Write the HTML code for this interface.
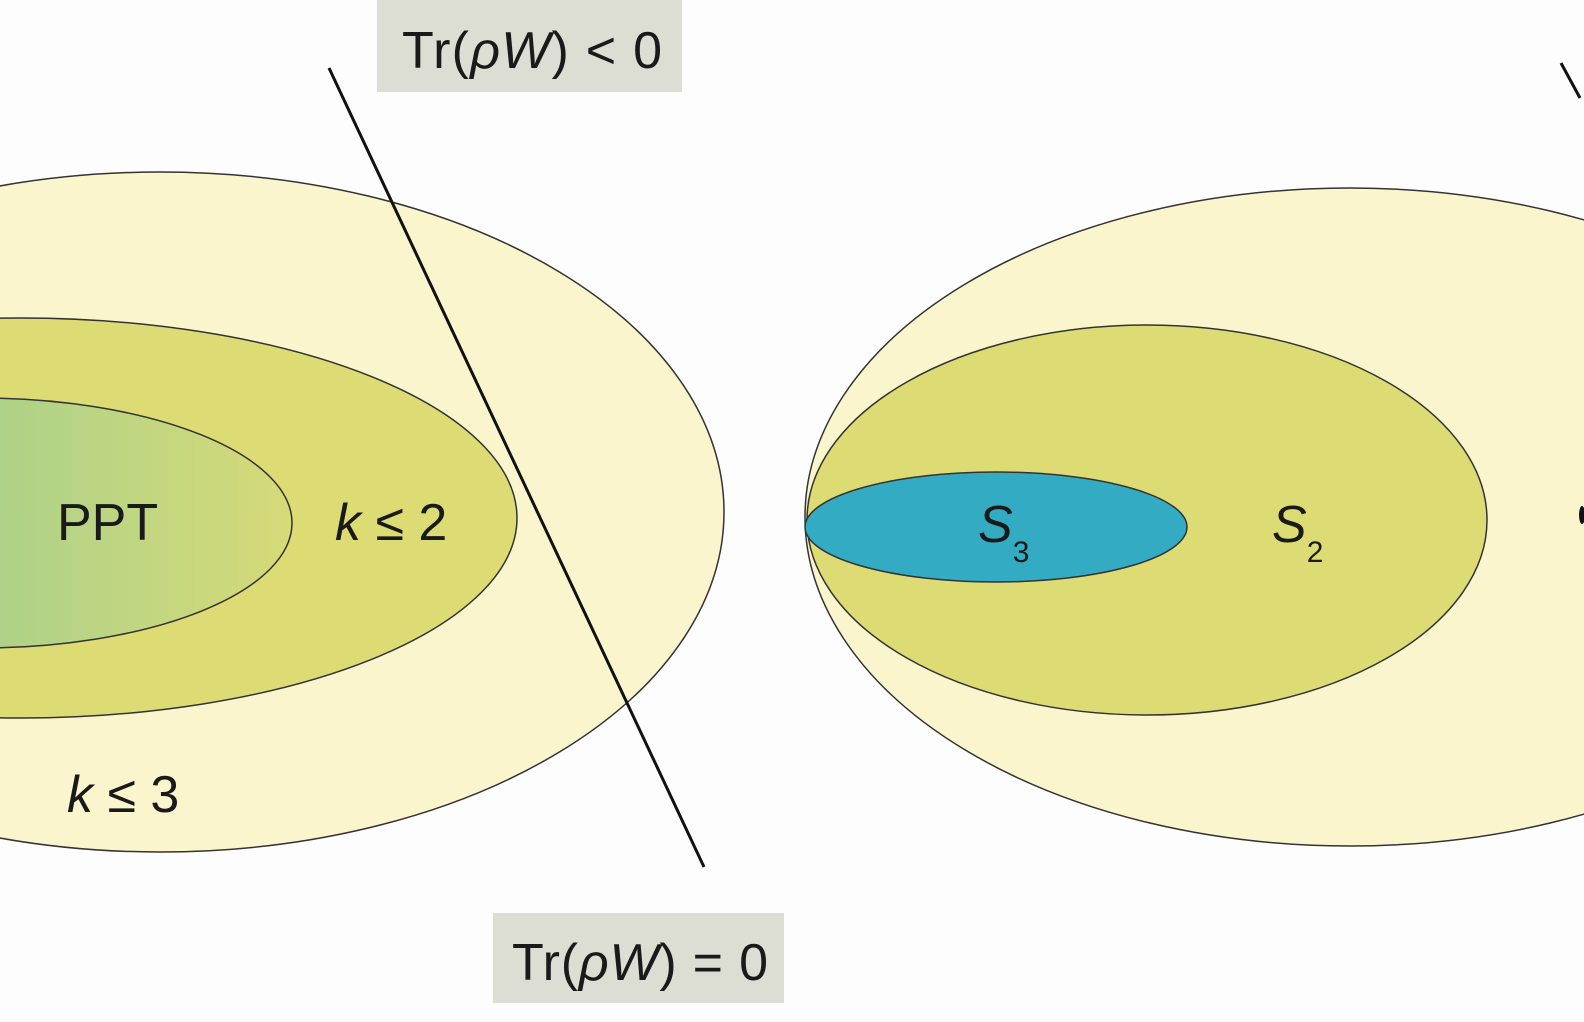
<!DOCTYPE html>
<html><head><style>
html,body{margin:0;padding:0;background:#fdfdfd;}
svg{display:block}
text{font-family:"Liberation Sans",sans-serif;fill:#1a1a1a}
</style></head><body>
<svg width="1584" height="1022" viewBox="0 0 1584 1022">
<defs>
<linearGradient id="g" x1="0" x2="1" y1="0" y2="0">
<stop offset="0" stop-color="#80c598"/>
<stop offset="0.65" stop-color="#b8d484"/>
<stop offset="1" stop-color="#d6da78"/>
</linearGradient>
</defs>
<rect width="1584" height="1022" fill="#fdfdfd"/>
<ellipse cx="160" cy="512" rx="564" ry="340" fill="#faf5cd" stroke="#333" stroke-width="1.5"/>
<ellipse cx="20" cy="518" rx="497" ry="200" fill="#dcdb74" stroke="#333" stroke-width="1.5"/>
<ellipse cx="-20" cy="523" rx="312" ry="125" fill="url(#g)" stroke="#333" stroke-width="1.5"/>
<ellipse cx="1350" cy="517" rx="545" ry="329" fill="#faf5cd" stroke="#333" stroke-width="1.5"/>
<ellipse cx="1147" cy="520" rx="340" ry="195" fill="#dcdb74" stroke="#333" stroke-width="1.5"/>
<ellipse cx="996" cy="527" rx="191" ry="55" fill="#33abc2" stroke="#333" stroke-width="1.5"/>
<line x1="329" y1="68" x2="704" y2="867" stroke="#111" stroke-width="3"/>
<rect x="377" y="0" width="305" height="92" fill="#dcddd3"/>
<rect x="493" y="913" width="291" height="90" fill="#dcddd3"/>
<text x="402" y="68" font-size="52" textLength="260" lengthAdjust="spacing">Tr(<tspan font-style="italic">ρW</tspan>) &lt; 0</text>
<text x="512" y="980" font-size="52" textLength="256" lengthAdjust="spacing">Tr(<tspan font-style="italic">ρW</tspan>) = 0</text>
<text x="57" y="540" font-size="52">PPT</text>
<text x="335" y="540" font-size="52"><tspan font-style="italic">k</tspan> ≤ 2</text>
<text x="67" y="812" font-size="52"><tspan font-style="italic">k</tspan> ≤ 3</text>
<text x="978" y="542" font-size="52" font-style="italic">S<tspan font-size="30" dy="20" font-style="normal">3</tspan></text>
<text x="1272" y="542" font-size="52" font-style="italic">S<tspan font-size="30" dy="20" font-style="normal">2</tspan></text>
<line x1="1561" y1="63" x2="1580" y2="98" stroke="#111" stroke-width="3"/>
<ellipse cx="1582" cy="515" rx="3" ry="9" fill="#111"/>
</svg>
</body></html>
